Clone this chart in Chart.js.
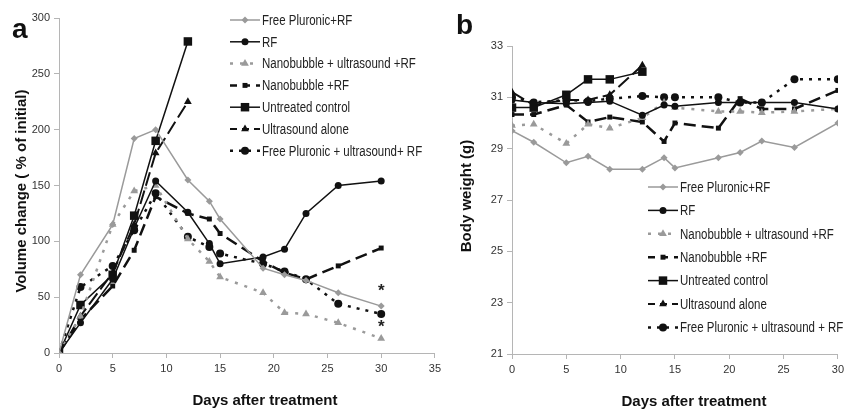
<!DOCTYPE html>
<html>
<head>
<meta charset="utf-8">
<script src="https://cdn.jsdelivr.net/npm/chart.js@4.4.0/dist/chart.umd.min.js"></script>
<style>
  body { margin: 0; background: #fff; width: 848px; height: 410px; position: relative; overflow: hidden;
         font-family: "Liberation Sans", Arial, sans-serif; }
  canvas { position: absolute; top: 0; }
  #chartA { left: 0; }
  #chartB { left: 445px; }
  .lbl { position: absolute; font-weight: bold; color: #111; white-space: nowrap; }
  .panel { font-size: 28px; }
  .axt { font-size: 15px; }
  .rot { transform: translate(-50%, -50%) rotate(-90deg); }
  .ctr { transform: translate(-50%, -50%); }
</style>
</head>
<body>
<canvas id="chartA" width="445" height="410"></canvas>
<canvas id="chartB" width="403" height="410"></canvas>

<div class="lbl panel" style="left:12px;top:13px;">a</div>
<div class="lbl panel" style="left:456px;top:9px;">b</div>
<div class="lbl axt rot" style="left:20px;top:191px;">Volume change ( % of initial)</div>
<div class="lbl axt rot" style="left:465px;top:196px;">Body weight (g)</div>
<div class="lbl axt ctr" style="left:265px;top:399px;">Days after treatment</div>
<div class="lbl axt ctr" style="left:694px;top:400px;">Days after treatment</div>

<script>
// days of measurement
const days = [0, 2, 5, 7, 9, 12, 14, 15, 19, 21, 23, 26, 30];
const daysShort = [0, 2, 5, 7, 9, 12];

const labelsA = ["Free Pluronic+RF", "RF", "Nanobubble + ultrasound +RF", "Nanobubble +RF",
                 "Untreated control", "Ultrasound alone", "Free Pluronic + ultrasound+ RF"];
const labelsB = ["Free Pluronic+RF", "RF", "Nanobubble + ultrasound +RF", "Nanobubble +RF",
                 "Untreated control", "Ultrasound alone", "Free Pluronic + ultrasound + RF"];

// panel a: tumour volume (% of initial)
const volFreePluronicRF = [0, 70, 115, 192, 200, 155, 136, 120, 76, 70, 65, 54, 42];
const volRF = [0, 27, 66, 112, 154, 126, 98, 80, 86, 93, 125, 150, 154];
const volNanoUsRF = [0, 33, 115, 145, 150, 102, 82, 68, 54, 36, 35, 27, 13];
const volNanoRF = [0, 30, 60, 92, 140, 125, 120, 107, 82, 72, 66, 78, 94];
const volControl = [0, 43, 70, 123, 190, 279];
const volUsAlone = [0, 33, 72, 115, 179, 225];
const volFreePluronicUsRF = [0, 59, 78, 110, 143, 104, 95, 89, 80, 73, 66, 44, 35];
const starsA = [{ x: 30, y: 58 }, { x: 30, y: 26 }];

// panel b: body weight (g)
const wFreePluronicRF = [29.7, 29.25, 28.45, 28.7, 28.2, 28.2, 28.65, 28.25, 28.65, 28.85, 29.3, 29.05, 30.0];
const wRF = [30.9, 30.8, 30.75, 30.8, 30.85, 30.3, 30.7, 30.65, 30.8, 30.8, 30.8, 30.8, 30.55];
const wNanoUsRF = [29.9, 29.95, 29.2, 29.95, 29.8, 30.2, 30.8, 30.6, 30.45, 30.45, 30.4, 30.45, 30.55];
const wNanoRF = [30.33, 30.33, 30.7, 30.04, 30.23, 30.04, 29.28, 30.0, 29.8, 30.95, 30.55, 30.55, 31.27];
const wControl = [30.6, 30.6, 31.1, 31.7, 31.7, 32.0];
const wUsAlone = [31.2, 30.7, 30.9, 30.9, 31.1, 32.25];
const wFreePluronicUsRF = [31.0, 30.8, 30.9, 30.85, 30.95, 31.05, 31.0, 31.0, 31.0, 30.8, 30.8, 31.7, 31.7];

const GRAY = "#9a9a9a";
const BLACK = "#111";
const FONT = "'Liberation Sans', Arial, sans-serif";

const styles = [
  { borderColor: GRAY, backgroundColor: GRAY, borderWidth: 1.5, borderDash: [], pointStyle: "rectRot", pointRadius: 3.5 },
  { borderColor: BLACK, backgroundColor: BLACK, borderWidth: 1.5, borderDash: [], pointStyle: "circle", pointRadius: 3.5 },
  { borderColor: GRAY, backgroundColor: GRAY, borderWidth: 2.5, borderDash: [3, 7], pointStyle: "triangle", pointRadius: 4.5 },
  { borderColor: BLACK, backgroundColor: BLACK, borderWidth: 2.5, borderDash: [12, 6], pointStyle: "rect", pointRadius: 3.5 },
  { borderColor: BLACK, backgroundColor: BLACK, borderWidth: 1.5, borderDash: [], pointStyle: "rect", pointRadius: 6 },
  { borderColor: BLACK, backgroundColor: BLACK, borderWidth: 2, borderDash: [14, 5], pointStyle: "triangle", pointRadius: 4.5 },
  { borderColor: BLACK, backgroundColor: BLACK, borderWidth: 2.5, borderDash: [3, 6], pointStyle: "circle", pointRadius: 4 }
];

function pts(xs, ys) { return ys.map((y, i) => ({ x: xs[i], y: y })); }

function makeSets(labels, series) {
  return series.map((s, i) => Object.assign({
    label: labels[i],
    data: pts(s.length === days.length ? days : daysShort, s),
    tension: 0,
    pointBorderWidth: 0,
    pointHoverRadius: 0
  }, styles[i]));
}

// legend drawn inside the plot, like the original
const floatLegend = {
  id: "floatLegend",
  afterDraw(chart, args, opts) {
    const ctx = chart.ctx;
    ctx.save();
    chart.data.datasets.forEach((ds, i) => {
      const y = opts.y + i * opts.gap;
      ctx.strokeStyle = ds.borderColor;
      ctx.lineWidth = ds.borderWidth;
      ctx.setLineDash(ds.borderDash.length ? [Math.min(ds.borderDash[0], 7), ds.borderDash[1]] : []);
      ctx.beginPath();
      ctx.moveTo(opts.x, y);
      ctx.lineTo(opts.x + opts.len, y);
      ctx.stroke();
      ctx.setLineDash([]);
      ctx.fillStyle = ds.backgroundColor;
      Chart.helpers.drawPoint(ctx, { pointStyle: ds.pointStyle, radius: ds.pointRadius, rotation: 0, borderWidth: 0 },
        opts.x + opts.len / 2, y);
      // narrow type like the original
      ctx.save();
      ctx.translate(opts.x + opts.len + 2, y + 1);
      ctx.scale(0.82, 1);
      ctx.fillStyle = "#222";
      ctx.font = "14px " + FONT;
      ctx.textBaseline = "middle";
      ctx.fillText(ds.label, 0, 0);
      ctx.restore();
    });
    ctx.restore();
  }
};

const starMarks = {
  id: "starMarks",
  afterDraw(chart, args, opts) {
    if (!opts.marks) return;
    const ctx = chart.ctx;
    ctx.save();
    ctx.fillStyle = "#222";
    ctx.font = "bold 17px " + FONT;
    ctx.textAlign = "center";
    ctx.textBaseline = "middle";
    opts.marks.forEach(m => {
      ctx.fillText("*", chart.scales.x.getPixelForValue(m.x), chart.scales.y.getPixelForValue(m.y) + 3);
    });
    ctx.restore();
  }
};

function axis(min, max, step, size, isX) {
  return {
    type: "linear",
    min: min, max: max,
    ticks: { stepSize: step, color: "#333", font: { family: FONT, size: 11 }, padding: 4 },
    grid: { drawOnChartArea: false, color: "#b5b5b5", tickLength: 5 },
    border: { color: "#b5b5b5", width: 1 },
    afterFit(s) { if (isX) s.height = size; else s.width = size; }
  };
}

function makeChart(id, sets, xMax, yMin, yMax, yStep, pad, yW, xH, legend, marks) {
  return new Chart(document.getElementById(id), {
    type: "line",
    data: { datasets: sets },
    options: {
      responsive: false,
      animation: false,
      layout: { padding: pad },
      scales: {
        x: axis(0, xMax, 5, xH, true),
        y: axis(yMin, yMax, yStep, yW, false)
      },
      plugins: {
        legend: { display: false },
        tooltip: { enabled: false },
        floatLegend: legend,
        starMarks: { marks: marks }
      }
    },
    plugins: [floatLegend, starMarks]
  });
}

makeChart("chartA",
  makeSets(labelsA, [volFreePluronicRF, volRF, volNanoUsRF, volNanoRF, volControl, volUsAlone, volFreePluronicUsRF]),
  35, 0, 300, 50, { top: 18, right: 8, left: 0, bottom: 0 }, 59, 57,
  { x: 230, y: 20, gap: 21.8, len: 30 }, starsA);

makeChart("chartB",
  makeSets(labelsB, [wFreePluronicRF, wRF, wNanoUsRF, wNanoRF, wControl, wUsAlone, wFreePluronicUsRF]),
  30, 21, 33, 2, { top: 46, right: 9, left: 0, bottom: 0 }, 67, 56,
  { x: 203, y: 187, gap: 23.4, len: 30 }, null);
</script>
</body>
</html>
